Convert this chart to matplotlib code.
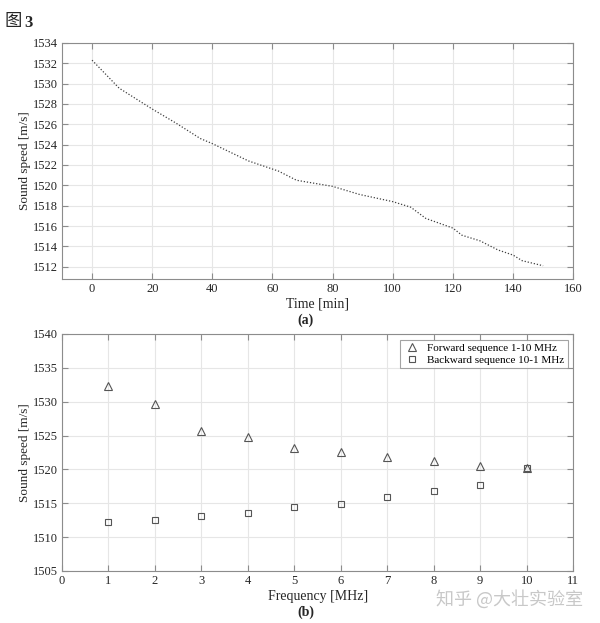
import matplotlib.pyplot as plt

plt.rcParams["font.family"] = ["Liberation Serif", "Noto Sans CJK SC"]
plt.rcParams["mathtext.fontset"] = "stix"

# (a) sound speed over time
time_min = [0, 9, 20, 28, 36, 40, 52, 62, 68, 80, 89, 100, 106, 111, 120, 123, 129, 135, 140, 143, 150]
speed_t = [1532.3, 1529.55, 1527.5, 1526.1, 1524.6, 1524.1, 1522.4, 1521.4, 1520.5, 1519.9, 1519.1,
           1518.4, 1517.85, 1516.75, 1515.8, 1515.1, 1514.55, 1513.65, 1513.15, 1512.6, 1512.1]

# (b) sound speed per frequency
freq_mhz = [1, 2, 3, 4, 5, 6, 7, 8, 9, 10]
forward = [1532.3, 1529.6, 1525.7, 1524.8, 1523.1, 1522.5, 1521.8, 1521.3, 1520.5, 1520.2]
backward = [1512.2, 1512.55, 1513.15, 1513.6, 1514.45, 1514.95, 1515.95, 1516.75, 1517.7, 1520.2]

GRID = "#e6e6e6"
SPINE = "#8c8c8c"
TXT = "#262626"


def style(ax):
    # MATLAB-ish look: inward ticks on all sides, light solid grid
    ax.grid(True, color=GRID, linewidth=0.8)
    ax.set_axisbelow(True)
    ax.tick_params(direction="in", top=True, right=True, length=4,
                   color=SPINE, labelsize=9, labelcolor=TXT, pad=3)
    for s in ax.spines.values():
        s.set_color(SPINE)
        s.set_linewidth(0.8)
    ax.yaxis.set_label_coords(-0.06, 0.5)


fig = plt.figure(figsize=(6.0, 6.23), dpi=100)

ax1 = fig.add_axes([0.1033, 0.5522, 0.852, 0.379])
ax1.plot(time_min, speed_t, linestyle=(0, (1, 1.5)), color="#404040", linewidth=0.9)
ax1.set_xlim(-10, 160)
ax1.set_ylim(1510.8, 1534)
ax1.set_xticks(range(0, 161, 20))
ax1.set_yticks(range(1512, 1535, 2))
ax1.set_xlabel("Time [min]", fontsize=10, color=TXT, labelpad=2)
ax1.set_ylabel("Sound speed [m/s]", fontsize=9.5, color=TXT)
style(ax1)
fig.text(0.5093, 1 - 320 / 623, "(a)", ha="center", va="center", fontsize=10, weight="bold", color=TXT)

ax2 = fig.add_axes([0.1033, 0.0835, 0.852, 0.3804])
ax2.plot(freq_mhz, forward, linestyle="none", marker="^", markersize=6, markerfacecolor="none",
         markeredgecolor="#555555", markeredgewidth=0.8, label="Forward sequence 1-10 MHz")
ax2.plot(freq_mhz, backward, linestyle="none", marker="s", markersize=4.5, markerfacecolor="none",
         markeredgecolor="#555555", markeredgewidth=0.8, label="Backward sequence 10-1 MHz")
ax2.set_xlim(0, 11)
ax2.set_ylim(1505, 1540)
ax2.set_xticks(range(0, 12))
ax2.set_yticks(range(1505, 1541, 5))
ax2.set_xlabel("Frequency [MHz]", fontsize=10, color=TXT, labelpad=2)
ax2.set_ylabel("Sound speed [m/s]", fontsize=9.5, color=TXT)
style(ax2)
leg = ax2.legend(loc="upper right", fontsize=8, frameon=True, fancybox=False,
                 borderpad=0.3, handletextpad=0.6, handlelength=1.5, borderaxespad=0.5,
                 labelspacing=0.2)
leg.get_frame().set_edgecolor(SPINE)
leg.get_frame().set_linewidth(0.8)
fig.text(0.5093, 1 - 612 / 623, "(b)", ha="center", va="center", fontsize=10, weight="bold", color=TXT)

# header and watermark
fig.text(0.008, 1 - 21 / 623, "图", ha="left", va="center", fontsize=12.5, color=TXT,
         family=["Noto Sans CJK SC"])
fig.text(0.040, 1 - 23 / 623, "3", ha="left", va="center", fontsize=12, weight="bold", color=TXT)
fig.text(0.972, 1 - 599 / 623, "知乎 @大壮实验室", ha="right", va="center", fontsize=13,
         color="#c8c8c8", family=["Noto Sans CJK SC"])

fig.savefig("out.png", dpi=100, facecolor="white")
